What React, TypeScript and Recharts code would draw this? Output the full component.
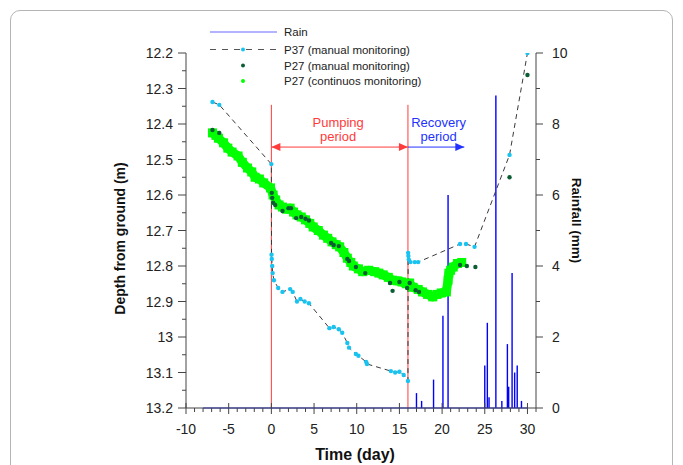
import React from "react";
import {
  Bar,
  ComposedChart,
  Line,
  ReferenceLine,
  Scatter,
  XAxis,
  YAxis,
} from "recharts";

const FONT = "'Liberation Sans', Arial, sans-serif";

// axis ticks
const dayTicks = [-10, -5, 0, 5, 10, 15, 20, 25, 30];
const dayMinorTicks = [
  -9, -8, -7, -6, -4, -3, -2, -1, 1, 2, 3, 4, 6, 7, 8, 9, 11, 12, 13, 14, 16,
  17, 18, 19, 21, 22, 23, 24, 26, 27, 28, 29, 31,
];
const depthTicks = [12.2, 12.3, 12.4, 12.5, 12.6, 12.7, 12.8, 12.9, 13, 13.1, 13.2];
const depthMinorTicks = [12.25, 12.35, 12.45, 12.55, 12.65, 12.75, 12.85, 12.95, 13.05, 13.15];
const rainTicks = [0, 2, 4, 6, 8, 10];
const rainMinorTicks = [1, 3, 5, 7, 9];

// P37 (manual monitoring)
const p37Days = [
  -6.9, -6.1, 0, 0.02, 0.05, 0.1, 0.15, 0.3, 0.8, 1.3, 2.2, 2.5, 3.0, 3.4, 3.9,
  4.4, 6.8, 7.3, 7.9, 8.3, 8.9, 9.1, 9.9, 10.2, 11.1, 11.2, 14.0, 14.5, 15.0,
  15.5, 16.0, 16.02, 16.05, 16.1, 16.3, 16.8, 17.2, 22.1, 22.8, 23.8, 27.9, 30.0,
];
const p37Depth = [
  12.338, 12.346, 12.513, 12.768, 12.78, 12.8, 12.82, 12.84, 12.862, 12.873,
  12.865, 12.873, 12.9, 12.893, 12.9, 12.905, 12.975, 12.972, 12.978, 12.988,
  13.017, 13.03, 13.048, 13.053, 13.07, 13.076, 13.096, 13.1, 13.098, 13.107,
  13.124, 12.763, 12.772, 12.782, 12.789, 12.789, 12.789, 12.738, 12.738,
  12.746, 12.487, 12.2,
];

// P27 (manual monitoring)
const p27Days = [
  -6.9, -6.1, 0.05, 0.1, 0.2, 0.45, 1.3, 2.0, 2.3, 2.9, 3.5, 4.0, 4.4, 7.0, 7.3,
  7.9, 8.9, 9.1, 9.9, 11.0, 13.9, 14.2, 15.0, 15.9, 16.2, 16.9, 17.3, 22.1,
  22.9, 23.9, 27.9, 30.0,
];
const p27Depth = [
  12.417, 12.425, 12.594, 12.608, 12.622, 12.628, 12.645, 12.637, 12.637,
  12.665, 12.662, 12.667, 12.672, 12.735, 12.741, 12.744, 12.78, 12.786,
  12.803, 12.82, 12.848, 12.87, 12.845, 12.862, 12.848, 12.868, 12.873,
  12.797, 12.8, 12.803, 12.55, 12.262,
];

// P27 (continuos monitoring), read along the band
const p27ContDays = [
  -6.9, -6.5, -6.2, -5.6, -5.1, -4.6, -3.9, -3.4, -2.8, -2.3, -1.9, -1.4, -0.9,
  -0.1, 0.2, 0.5, 0.9, 1.3, 1.8, 2.2, 2.6, 3.0, 3.5, 4.0, 4.5, 4.9, 5.5, 6.1,
  6.6, 7.1, 7.6, 8.0, 8.5, 8.9, 9.3, 9.6, 10.2, 10.7, 11.4, 12.1, 12.6, 13.1,
  13.7, 14.2, 14.8, 15.3, 15.8, 16.2, 16.6, 17.2, 17.7, 18.3, 18.9, 19.4, 19.9,
  20.5, 20.7, 20.8, 21.0, 21.3, 21.8, 22.3,
];
const p27ContDepth = [
  12.425, 12.432, 12.44, 12.453, 12.468, 12.479, 12.49, 12.508, 12.524, 12.535,
  12.55, 12.555, 12.566, 12.58, 12.6, 12.614, 12.628, 12.634, 12.64, 12.637,
  12.648, 12.656, 12.662, 12.67, 12.68, 12.69, 12.7, 12.713, 12.722, 12.732,
  12.74, 12.746, 12.762, 12.778, 12.79, 12.8, 12.808, 12.816, 12.812, 12.816,
  12.82, 12.825, 12.832, 12.84, 12.842, 12.845, 12.85, 12.848, 12.86, 12.866,
  12.873, 12.88, 12.887, 12.88, 12.876, 12.873, 12.84, 12.82, 12.812, 12.803,
  12.793, 12.79,
];

// Rain
const rainDays = [17.0, 17.6, 19.0, 20.1, 20.7, 25.0, 25.3, 25.5, 26.3, 27.0, 27.65, 27.8, 28.2, 28.5, 28.8, 29.3];
const rainMm = [0.42, 0.2, 0.8, 2.6, 6.0, 1.2, 2.4, 0.3, 8.8, 0.2, 1.8, 0.6, 3.8, 1.0, 1.2, 0.2];

const rainData = rainDays.map((day, i) => ({ day, rain: rainMm[i] }));
const p37Data = p37Days.map((day, i) => ({ day, depth: p37Depth[i] }));
const p27Data = p27Days.map((day, i) => ({ day, depth: p27Depth[i] }));
const p27ContData = p27ContDays.map((day, i) => ({ day, depth: p27ContDepth[i] }));

const CYAN = "#19c3f0";
const DARK_GREEN = "#0b5d32";
const GREEN = "#00ff00";
const RED = "#ff3b3b";
const BLUE = "#2233ff";

function DayTick(props: any) {
  const { x, y, payload } = props;
  const major = dayTicks.includes(payload.value);
  return (
    <g>
      <line x1={x} x2={x} y1={major ? y - 5 : y} y2={major ? y + 6 : y + 4} stroke="#444" />
      {major && (
        <text x={x} y={y + 26} textAnchor="middle" fontSize={14} fill="#222" fontFamily={FONT}>
          {payload.value}
        </text>
      )}
    </g>
  );
}

function DepthTick(props: any) {
  const { x, y, payload } = props;
  const major = depthTicks.includes(payload.value);
  return (
    <g>
      <line x1={x - (major ? 8 : 4)} x2={x} y1={y} y2={y} stroke="#444" />
      {major && (
        <text x={x - 13} y={y + 5} textAnchor="end" fontSize={14} fill="#222" fontFamily={FONT}>
          {payload.value}
        </text>
      )}
    </g>
  );
}

function RainTick(props: any) {
  const { x, y, payload } = props;
  const major = rainTicks.includes(payload.value);
  return (
    <g>
      <line x1={x} x2={x + (major ? 7 : 4)} y1={y} y2={y} stroke="#444" />
      {major && (
        <text x={x + 16} y={y + 5} textAnchor="start" fontSize={14} fill="#222" fontFamily={FONT}>
          {payload.value}
        </text>
      )}
    </g>
  );
}

const DepthTitle = (props: any) => {
  const { viewBox } = props;
  const cx = viewBox.x - 1;
  const cy = viewBox.y + viewBox.height / 2 + 8;
  return (
    <text x={cx} y={cy} transform={`rotate(-90 ${cx} ${cy})`} textAnchor="middle" fontSize={14} fontWeight="bold" fill="#111" fontFamily={FONT}>
      Depth from ground (m)
    </text>
  );
};

const RainTitle = (props: any) => {
  const { viewBox } = props;
  const cx = viewBox.x + 36;
  const cy = viewBox.y + viewBox.height / 2 - 10;
  return (
    <text x={cx} y={cy} transform={`rotate(90 ${cx} ${cy})`} textAnchor="middle" fontSize={13.5} fontWeight="bold" fill="#111" fontFamily={FONT}>
      Rainfall (mm)
    </text>
  );
};

const TimeTitle = (props: any) => {
  const { viewBox } = props;
  return (
    <text x={viewBox.x + viewBox.width / 2 - 6} y={viewBox.y + 52} textAnchor="middle" fontSize={16} fontWeight="bold" fill="#111" fontFamily={FONT}>
      Time (day)
    </text>
  );
};

function arrow(color: string, both: boolean, lines: string[], dx: number) {
  return (props: any) => {
    const { x1, y1, x2 } = props;
    const mid = (x1 + x2) / 2 + dx;
    return (
      <g>
        <line x1={x1} y1={y1} x2={x2} y2={y1} stroke={color} strokeWidth={1} />
        <polygon points={`${x2},${y1} ${x2 - 9},${y1 - 4} ${x2 - 9},${y1 + 4}`} fill={color} />
        {both && <polygon points={`${x1},${y1} ${x1 + 9},${y1 - 4} ${x1 + 9},${y1 + 4}`} fill={color} />}
        <text x={mid} y={y1 - 20} textAnchor="middle" fontSize={13} fill={color} fontFamily={FONT}>{lines[0]}</text>
        <text x={mid} y={y1 - 6} textAnchor="middle" fontSize={13} fill={color} fontFamily={FONT}>{lines[1]}</text>
      </g>
    );
  };
}

const Dot = (color: string, r: number) => (props: any) =>
  <circle key={props.key} cx={props.cx} cy={props.cy} r={r} fill={color} />;

const Square = (color: string, s: number) => (props: any) =>
  <rect key={props.key} x={props.cx - s / 2} y={props.cy - s / 2} width={s} height={s} fill={color} />;

const RainSpike = (props: any) => {
  const { x, y, width, height } = props;
  if (!height) return <g />;
  const cx = x + width / 2;
  return <line x1={cx} x2={cx} y1={y} y2={y + height} stroke="#0000ff" strokeWidth={1.4} />;
};

function LegendBox() {
  const rowX = 202;
  const textX = 276;
  const rows = [24, 41.5, 57.5, 73];
  return (
    <svg width={667} height={100} style={{ position: "absolute", left: 0, top: 0, pointerEvents: "none" }}>
      <line x1={rowX} x2={rowX + 67} y1={rows[0]} y2={rows[0]} stroke="#9a9aff" strokeWidth={1.3} />
      <line x1={rowX} x2={rowX + 67} y1={rows[1]} y2={rows[1]} stroke="#555" strokeDasharray="6 6" />
      <circle cx={rowX + 33} cy={rows[1]} r={2} fill={CYAN} />
      <circle cx={rowX + 33} cy={rows[2]} r={2} fill={DARK_GREEN} />
      <circle cx={rowX + 33} cy={rows[3]} r={2} fill={GREEN} />
      {["Rain", "P37 (manual monitoring)", "P27 (manual monitoring)", "P27 (continuos monitoring)"].map((t, i) => (
        <text key={t} x={textX} y={rows[i] + 4} fontSize={11.5} fill="#222" fontFamily={FONT}>{t}</text>
      ))}
    </svg>
  );
}

export default function App() {
  return (
    <div style={{ position: "relative", width: 667, height: 457, fontFamily: FONT }}>
      <div style={{ position: "absolute", left: 2, top: 2, width: 663, height: 480, border: "1px solid #b5b5b5", borderRadius: 10, boxSizing: "border-box" }} />
      <ComposedChart width={667} height={457} data={rainData} margin={{ top: 45, right: 79, bottom: 17, left: 118 }}>
        <XAxis
          type="number"
          dataKey="day"
          domain={[-10, 31]}
          ticks={[...dayTicks, ...dayMinorTicks]}
          interval={0}
          tick={DayTick}
          tickSize={0}
          tickMargin={0}
          tickLine={false}
          axisLine={{ stroke: "#444" }}
          height={40}
          allowDataOverflow
          label={TimeTitle}
        />
        <YAxis
          yAxisId="depth"
          dataKey="depth"
          type="number"
          reversed
          domain={[12.2, 13.2]}
          ticks={[...depthTicks, ...depthMinorTicks]}
          interval={0}
          tick={DepthTick}
          tickSize={0}
          tickMargin={0}
          tickLine={false}
          axisLine={{ stroke: "#444" }}
          width={60}
          allowDataOverflow
          label={DepthTitle}
        />
        <YAxis
          yAxisId="rain"
          orientation="right"
          dataKey="rain"
          type="number"
          domain={[0, 10]}
          ticks={[...rainTicks, ...rainMinorTicks]}
          interval={0}
          tick={RainTick}
          tickSize={0}
          tickMargin={0}
          tickLine={false}
          axisLine={{ stroke: "#444" }}
          width={60}
          allowDataOverflow
          label={RainTitle}
        />
        <ReferenceLine yAxisId="depth" segment={[{ x: 0, y: 12.346 }, { x: 0, y: 13.2 }]} stroke={RED} strokeWidth={1} />
        <ReferenceLine yAxisId="depth" segment={[{ x: 16, y: 12.346 }, { x: 16, y: 13.2 }]} stroke={RED} strokeWidth={1} />
        <ReferenceLine yAxisId="depth" segment={[{ x: 0, y: 12.465 }, { x: 16, y: 12.465 }]} shape={arrow(RED, true, ["Pumping", "period"], -1.5)} />
        <ReferenceLine yAxisId="depth" segment={[{ x: 16, y: 12.465 }, { x: 22.6, y: 12.465 }]} shape={arrow(BLUE, false, ["Recovery", "period"], 2.5)} />
        <ReferenceLine yAxisId="rain" segment={[{ x: -8, y: 0 }, { x: 30, y: 0 }]} stroke="#1a1aff" strokeWidth={1.2} />
        <Line
          yAxisId="depth"
          data={p27ContData}
          dataKey="depth"
          type="linear"
          stroke={GREEN}
          strokeWidth={9}
          strokeLinejoin="round"
          dot={Square(GREEN, 9)}
          activeDot={false}
          isAnimationActive={false}
        />
        <Line
          yAxisId="depth"
          data={p37Data}
          dataKey="depth"
          type="linear"
          stroke="#3a3a3a"
          strokeWidth={1}
          strokeDasharray="5 4"
          dot={Dot(CYAN, 2.2)}
          activeDot={false}
          isAnimationActive={false}
        />
        <Scatter
          yAxisId="depth"
          data={p27Data}
          dataKey="depth"
          shape={Dot(DARK_GREEN, 2.2)}
          isAnimationActive={false}
        />
        <Bar yAxisId="rain" dataKey="rain" fill="#0000ff" barSize={2} shape={RainSpike} isAnimationActive={false} />
      </ComposedChart>
      <LegendBox />
    </div>
  );
}
